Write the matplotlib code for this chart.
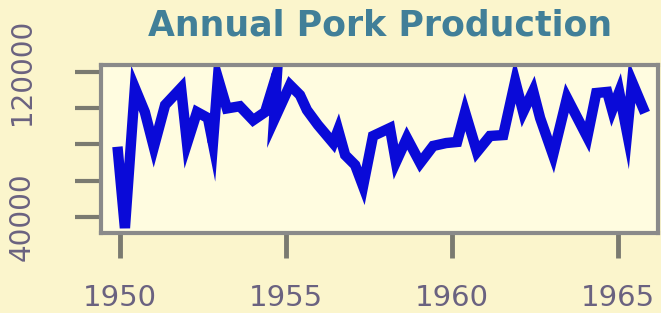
import matplotlib.pyplot as plt
from matplotlib.ticker import FixedLocator

# data (year, tonnes)
years = [1949.94, 1950.15, 1950.45, 1950.75, 1951.02, 1951.36, 1951.84, 1952.02,
         1952.32, 1952.65, 1952.80, 1952.95, 1953.22, 1953.61, 1954.01, 1954.37,
         1954.73, 1954.64, 1955.12, 1955.42, 1955.63, 1955.96, 1956.42, 1956.57,
         1956.78, 1957.08, 1957.32, 1957.62, 1958.13, 1958.31, 1958.64, 1959.04,
         1959.43, 1959.82, 1960.15, 1960.39, 1960.75, 1961.14, 1961.54, 1961.90,
         1962.14, 1962.44, 1962.65, 1963.04, 1963.46, 1964.07, 1964.34, 1964.67,
         1964.82, 1965.03, 1965.27, 1965.42, 1965.75]
pork = [75900, 33900, 111200, 97900, 78600, 101800, 111200, 80600,
        97900, 94600, 80700, 116700, 99900, 101100, 93400, 97900,
        119400, 93500, 112800, 107300, 99000, 90800, 80800, 88000,
        74200, 68700, 57000, 84700, 89100, 70300, 83600, 69800,
        79200, 80800, 81400, 97900, 75900, 84700, 85200, 115000,
        97900, 109500, 94600, 74200, 105700, 84100, 108400, 109000,
        99000, 109000, 86300, 114500, 100100]

xticks = [1950, 1955, 1960, 1965]
xlabels = ['1950', '1955', '1960', '1965']
yticks = [40000, 60000, 80000, 100000, 120000]
ylabels = ['40000', '', '', '', '120000']

outer_bg = '#fbf5cc'
inner_bg = '#fffce0'
grey = '#8a8a8a'

fig = plt.figure(figsize=(6.61, 3.13), dpi=100, facecolor=outer_bg)
ax = fig.add_axes([0.1528, 0.2556, 0.8427, 0.5367])
ax.set_facecolor(inner_bg)

ax.plot(years, pork, color='#0a0ad8', linewidth=7.5, solid_joinstyle='miter')

ax.set_xlim(1949.43, 1966.2)
ax.set_ylim(31170, 123860)

ax.xaxis.set_major_locator(FixedLocator(xticks))
ax.set_xticklabels(xlabels)
ax.yaxis.set_major_locator(FixedLocator(yticks))
ax.set_yticklabels(ylabels, rotation=90, va='center')

ax.tick_params(axis='x', length=18, width=3.5, color='#7a7a70', pad=19,
               labelsize=21, labelcolor='#6a6280')
ax.tick_params(axis='y', length=19, width=3, color='#7a7a70', pad=28,
               labelsize=20, labelcolor='#6a6280')

for s in ax.spines.values():
    s.set_linewidth(3)
    s.set_color(grey)

fig.text(0.575, 0.92, 'Annual Pork Production', ha='center', va='center',
         fontsize=25, fontweight='bold', color='#417f98')

plt.savefig('out.png', dpi=100, facecolor=outer_bg)
